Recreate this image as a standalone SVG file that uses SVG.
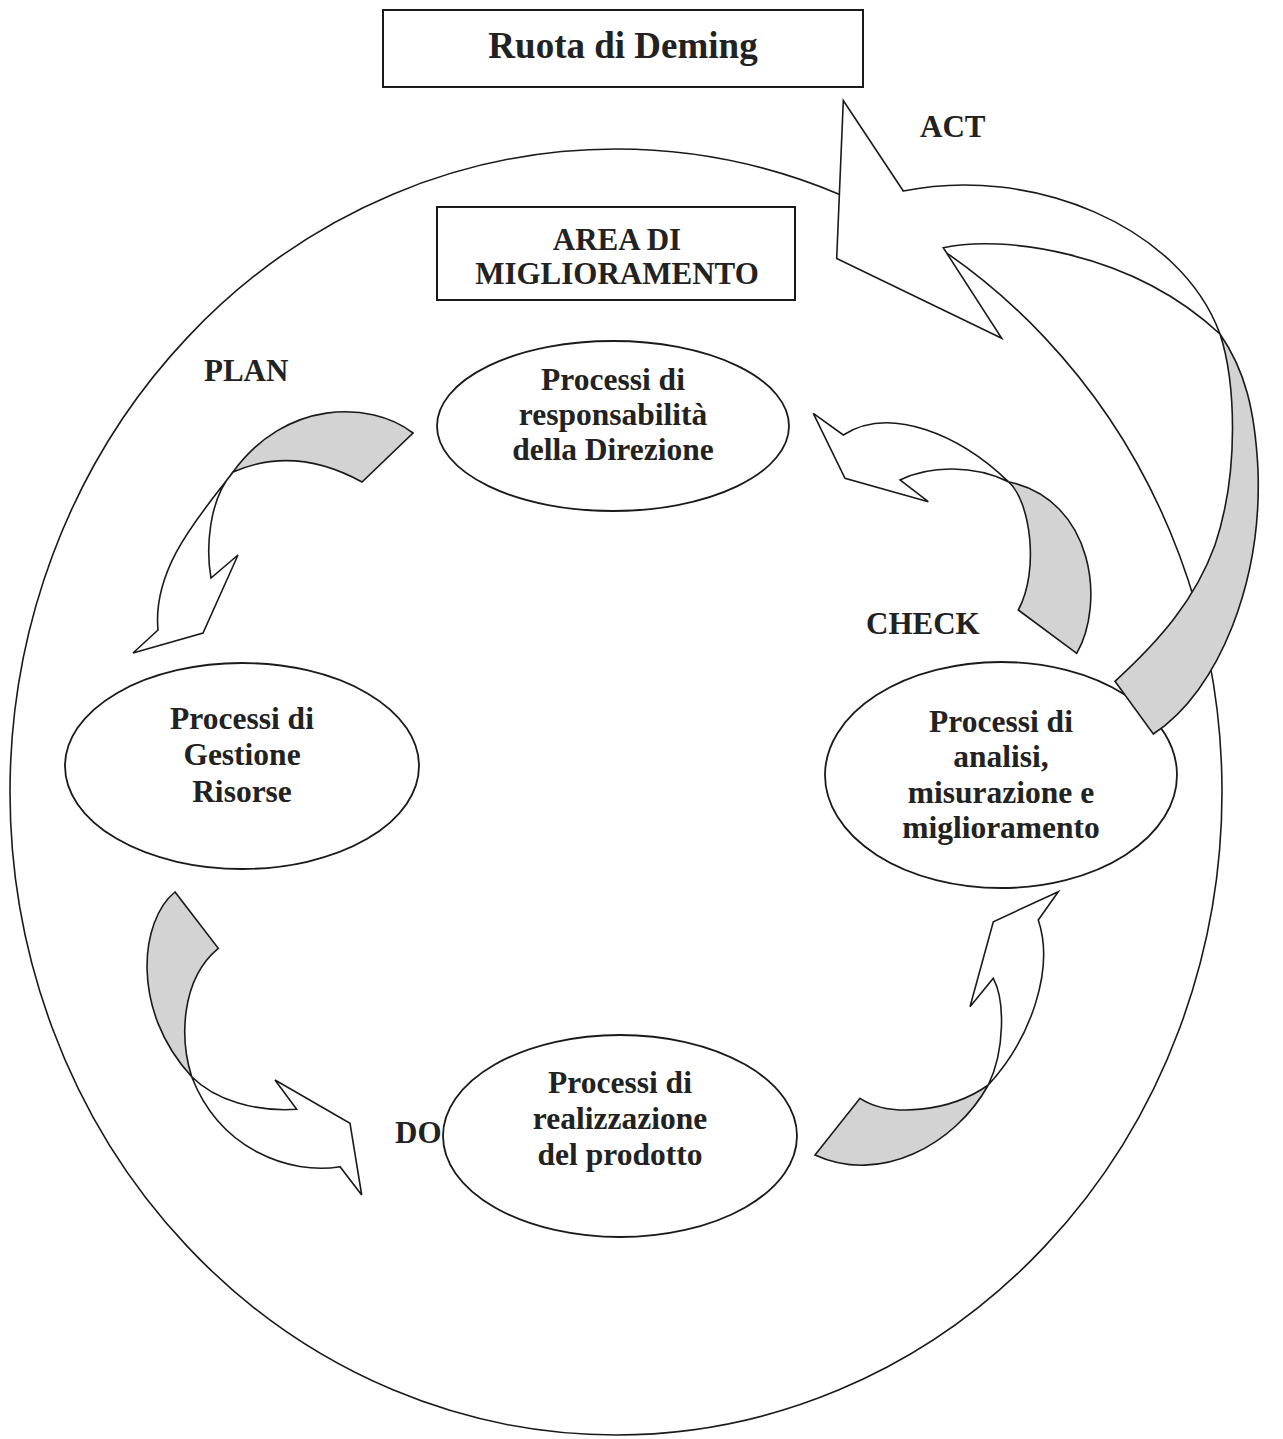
<svg xmlns="http://www.w3.org/2000/svg" width="1283" height="1439" viewBox="0 0 1283 1439">
<style>
  .bg{fill:#ffffff}
  .ring{fill:none;stroke:#1a1a1a;stroke-width:1.6}
  .box{fill:#ffffff;stroke:#1a1a1a;stroke-width:2}
  .node{fill:#ffffff;stroke:#1a1a1a;stroke-width:1.8}
  .t{font-family:"Liberation Serif","Times New Roman",serif;font-weight:bold;fill:#222;text-anchor:middle}
  .lbl{font-family:"Liberation Serif","Times New Roman",serif;font-weight:bold;fill:#222;font-size:31px}
  .white{fill:#ffffff;stroke:#1a1a1a;stroke-width:1.6;stroke-linejoin:miter}
  .gray{fill:#d3d3d3;stroke:#1a1a1a;stroke-width:1.6;stroke-linejoin:miter}
</style>
<rect class="bg" x="0" y="0" width="1283" height="1439"/>

<g id="wheel">
  <ellipse class="ring" cx="616" cy="792" rx="606" ry="643"/>
</g>

<g id="title">
  <rect class="box" x="383" y="10" width="480" height="77"/>
  <text class="t" x="623" y="58" font-size="37">Ruota di Deming</text>
</g>

<g id="area">
  <rect class="box" x="437" y="207" width="358" height="93"/>
  <text class="t" x="617" y="250" font-size="31">AREA DI</text>
  <text class="t" x="617" y="284" font-size="31">MIGLIORAMENTO</text>
</g>

<g id="label-plan"><text class="lbl" x="204" y="381">PLAN</text></g>
<g id="label-act"><text class="lbl" x="920" y="137">ACT</text></g>
<g id="label-check"><text class="lbl" x="866" y="634">CHECK</text></g>
<g id="label-do"><text class="lbl" x="395" y="1143">DO</text></g>

<g id="node-direzione">
  <ellipse class="node" cx="613" cy="426" rx="176" ry="85"/>
  <text class="t" font-size="31.5"><tspan x="613" y="390">Processi di</tspan><tspan x="613" y="425">responsabilità</tspan><tspan x="613" y="460">della Direzione</tspan></text>
</g>

<g id="node-risorse">
  <ellipse class="node" cx="242" cy="766" rx="177" ry="103"/>
  <text class="t" font-size="31.5"><tspan x="242" y="729">Processi di</tspan><tspan x="242" y="765">Gestione</tspan><tspan x="242" y="802">Risorse</tspan></text>
</g>

<g id="node-analisi">
  <ellipse class="node" cx="1001" cy="775" rx="176" ry="113"/>
  <text class="t" font-size="31.5"><tspan x="1001" y="732">Processi di</tspan><tspan x="1001" y="767">analisi,</tspan><tspan x="1001" y="803">misurazione e</tspan><tspan x="1001" y="838">miglioramento</tspan></text>
</g>

<g id="node-prodotto">
  <ellipse class="node" cx="620" cy="1136" rx="177" ry="101"/>
  <text class="t" font-size="31.5"><tspan x="620" y="1093">Processi di</tspan><tspan x="620" y="1129">realizzazione</tspan><tspan x="620" y="1165">del prodotto</tspan></text>
</g>

<g id="connectors">
  <g id="arrow-plan">
    <path class="gray" d="M413,433 C370,400 285,400 233,472 Q295,445 362,482 Z"/>
    <path class="white" d="M233,472 C205,510 152,565 158,630 L133,653 L203,633 L238,555 L211,578 C206,550 208,500 233,472 Z"/>
  </g>
  <g id="arrow-do">
    <path class="gray" d="M175,892 C140,920 130,1010 191.7,1076.7 C180,1040 180,980 218.3,948.3 Z"/>
    <path class="white" d="M191.7,1076.7 C215,1100 255,1112 296.7,1109.3 L275,1080 L350,1123.3 L361.7,1195 L340,1166.7 C290,1175 220,1150 191.7,1076.7 Z"/>
  </g>
  <g id="arrow-check-up">
    <path class="gray" d="M815,1155 L860,1098.3 C890,1118 950,1112 988.3,1085 C955,1145 880,1185 815,1155 Z"/>
    <path class="white" d="M988.3,1085 C1030,1040 1055,970 1038.3,920 L1058.3,891.7 L993.3,921.7 L970,1006.7 L993.3,978.3 C1005,1000 1005,1050 988.3,1085 Z"/>
  </g>
  <g id="arrow-check">
    <path class="gray" d="M1018.3,610 L1076.7,653.3 C1105,605 1095,500 1008.3,481.7 C1030,500 1040,570 1018.3,610 Z"/>
    <path class="white" d="M1008.3,481.7 C960,435 890,405 843.3,435 L813.3,413.3 L845,478.3 L928.3,501.7 L900,480 C930,465 975,465 1008.3,481.7 Z"/>
  </g>
  <g id="arrow-act">
    <path class="gray" d="M1115,681.3 L1153.3,734 C1220,690 1262,580 1258,470 C1255,410 1245,370 1220,334 C1235,380 1240,470 1215,545 C1195,600 1160,640 1115,681.3 Z"/>
    <path class="white" d="M1220,334 C1180,225 1030,165 903.3,191 L843.3,100.5 L836.7,258.4 L1001.7,338.3 L943.3,247.8 C1000,235 1130,250 1220,334 Z"/>
  </g>
</g>
</svg>
